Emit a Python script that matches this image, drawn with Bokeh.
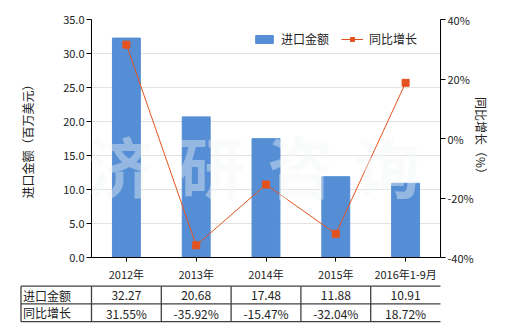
from bokeh.plotting import figure
from bokeh.models import (Range1d, LinearAxis, FixedTicker, NumeralTickFormatter,
                          PrintfTickFormatter, Legend, LegendItem, Label, ColumnDataSource)
from bokeh.layouts import column
from bokeh.embed import file_html
from bokeh.resources import INLINE
from bokeh.core.properties import value

categories = ["2012年", "2013年", "2014年", "2015年", "2016年1-9月"]
import_values = [32.27, 20.68, 17.48, 11.88, 10.91]
growth_pct = [31.55, -35.92, -15.47, -32.04, 18.72]
left_ticks = [0, 5, 10, 15, 20, 25, 30, 35]
right_ticks = [-40, -20, 0, 20, 40]
row_names = ["进口金额", "同比增长"]
import_labels = ["32.27", "20.68", "17.48", "11.88", "10.91"]
growth_labels = ["31.55%", "-35.92%", "-15.47%", "-32.04%", "18.72%"]

FONT = "Noto Sans CJK SC"
BAR = "#558ED5"
LINE = "#E4531F"
TXT = "#222222"

W = 520
FL, FR = 91, 80
FW = W - FL - FR

p = figure(x_range=categories, y_range=Range1d(0, 35), width=W, height=284,
           output_backend="svg", toolbar_location=None,
           min_border_left=FL, min_border_right=FR, min_border_top=19, min_border_bottom=25)
p.outline_line_color = None
p.background_fill_color = "white"
p.border_fill_color = "white"
p.extra_y_ranges = {"pct": Range1d(-40, 40)}

bars = p.vbar(x=categories, top=import_values, width=0.4, color=BAR)
src = ColumnDataSource(dict(x=categories, y=growth_pct))
ln = p.line("x", "y", source=src, y_range_name="pct", color=LINE, line_width=1)
mk = p.scatter("x", "y", source=src, y_range_name="pct", marker="square", size=7,
               color=LINE)

# watermark
wm_x = [29, 120, 209, 296]
for ch, xx in zip("济研咨询", wm_x):
    p.add_layout(Label(x=xx, y=94, x_units="screen", y_units="screen", text=ch,
                       text_font=FONT, text_font_size="66px", text_font_style="bold",
                       text_align="center", text_baseline="middle",
                       text_color="#F3F7F5", text_alpha=0.4, level="overlay"))

# left axis
ya = p.yaxis[0]
ya.ticker = FixedTicker(ticks=left_ticks)
ya.formatter = NumeralTickFormatter(format="0.0")
ya.axis_label = "进口金额（百万美元）"

ra = LinearAxis(y_range_name="pct", ticker=FixedTicker(ticks=right_ticks),
                formatter=PrintfTickFormatter(format="%d%%"), axis_label="同比增长（%）")
p.add_layout(ra, "right")

for ax in [ya, ra, p.xaxis[0]]:
    ax.axis_line_color = "black"
    ax.major_tick_line_color = "black"
    ax.minor_tick_line_color = None
    ax.major_tick_in = 0
    ax.major_tick_out = 5
    ax.major_label_text_font = FONT
    ax.major_label_text_font_size = "11px"
    ax.major_label_text_color = TXT
    ax.axis_label_text_font = FONT
    ax.axis_label_text_font_size = "12px"
    ax.axis_label_text_font_style = "normal"
    ax.axis_label_text_color = TXT
    ax.major_label_standoff = 2
ya.axis_label_standoff = 24
ra.axis_label_standoff = -4
p.xaxis[0].major_label_standoff = 4
p.xaxis[0].major_tick_out = 4

p.xgrid.grid_line_color = None
p.ygrid.grid_line_color = "#E2E2E2"
p.ygrid.ticker = FixedTicker(ticks=left_ticks)

legend = Legend(items=[LegendItem(label="进口金额", renderers=[bars]),
                       LegendItem(label="同比增长", renderers=[ln, mk])],
                orientation="horizontal", location=(162, 210),
                glyph_width=22, glyph_height=10, label_text_font=FONT,
                label_text_font_size="12px", label_text_color=TXT,
                border_line_color=None, background_fill_alpha=0,
                padding=0, margin=0, spacing=12, label_standoff=6)
p.add_layout(legend)

# table
H2 = 330 - 284
cw = FW / 5.0
t = figure(width=W, height=H2, x_range=Range1d(-FL / cw, (W - FL) / cw),
           y_range=Range1d(H2, 0), output_backend="svg", toolbar_location=None,
           min_border=0, min_border_left=0, min_border_right=0, min_border_top=0,
           min_border_bottom=0)
t.frame_align = False
t.axis.visible = False
t.grid.visible = False
t.outline_line_color = None

top_y, row_h = 1.7, 17.7
xl = -(FL - 20.5) / cw
hy = [top_y + k * row_h for k in range(3)]
t.segment(x0=[xl] * 3, x1=[5] * 3, y0=hy, y1=hy, color="#404040", line_width=1.3)
vx = [xl] + list(range(6))
t.segment(x0=vx, x1=vx, y0=[hy[0]] * 6, y1=[hy[2]] * 6, color="#404040", line_width=1.3)

centers = [i + 0.5 for i in range(5)]
t.text(x=[xl + 0.03] * 2, y=[top_y + row_h * (k + 0.5) for k in range(2)], text=row_names,
       text_font=value(FONT), text_font_size="12px", text_color=TXT,
       text_baseline="middle", text_align="left")
t.text(x=centers, y=[top_y + row_h * 0.55] * 5, text=import_labels,
       text_font=value(FONT), text_font_size="12px", text_color=TXT,
       text_baseline="middle", text_align="center")
t.text(x=centers, y=[top_y + row_h * 1.55] * 5, text=growth_labels,
       text_font=value(FONT), text_font_size="12px", text_color=TXT,
       text_baseline="middle", text_align="center")

layout = column(p, t, spacing=0)
open("out.html", "w").write(file_html(layout, INLINE))
